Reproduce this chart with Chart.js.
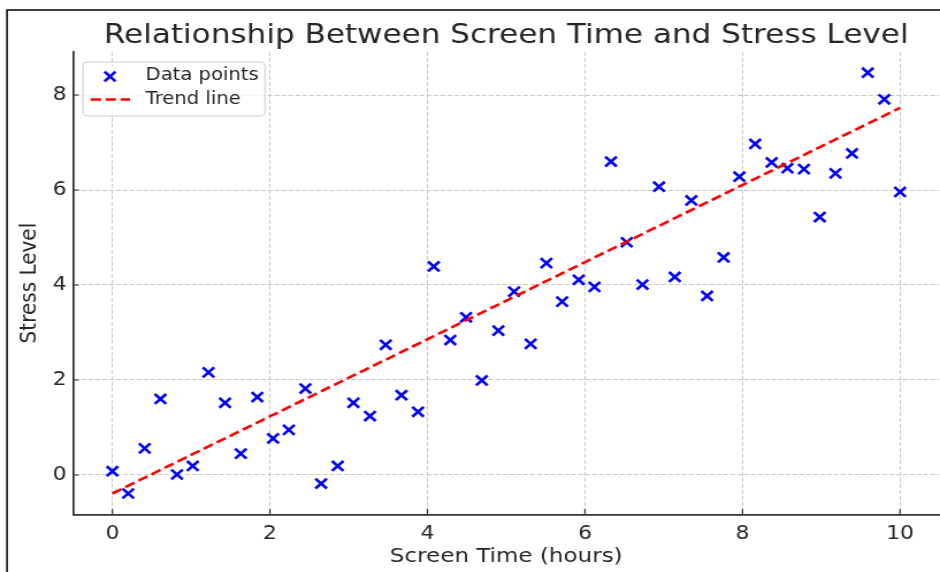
<!DOCTYPE html>
<html>
<head>
<meta charset="utf-8">
<script src="https://cdn.jsdelivr.net/npm/chart.js@4/dist/chart.umd.min.js"></script>
<style>
  html, body { margin: 0; padding: 0; background: #fff; overflow: hidden; }
  /* the figure is drawn 817px wide and widened to fill the 940px page */
  #wrap { position: relative; width: 817px; height: 572px; transform: scaleX(1.15055); transform-origin: 0 0; }
  canvas { display: block; }
</style>
</head>
<body>
<div id="wrap"><canvas id="chart" width="817" height="572"></canvas></div>
<script>
// Daily screen time (hours) for each participant
const hours = [0.00, 0.20, 0.41, 0.61, 0.82, 1.02, 1.22, 1.43, 1.63, 1.84,
               2.04, 2.24, 2.45, 2.65, 2.86, 3.06, 3.27, 3.47, 3.67, 3.88,
               4.08, 4.29, 4.49, 4.69, 4.90, 5.10, 5.31, 5.51, 5.71, 5.92,
               6.12, 6.33, 6.53, 6.73, 6.94, 7.14, 7.35, 7.55, 7.76, 7.96,
               8.16, 8.37, 8.57, 8.78, 8.98, 9.18, 9.39, 9.59, 9.80, 10.00];

// Reported stress level for each participant
const stress = [0.08, -0.39, 0.56, 1.60, 0.01, 0.19, 2.16, 1.52, 0.45, 1.64,
                0.77, 0.95, 1.82, -0.18, 0.19, 1.52, 1.24, 2.74, 1.68, 1.33,
                4.39, 2.84, 3.32, 1.99, 3.04, 3.86, 2.76, 4.46, 3.65, 4.11,
                3.96, 6.60, 4.90, 4.01, 6.07, 4.17, 5.78, 3.77, 4.58, 6.28,
                6.97, 6.58, 6.46, 6.44, 5.43, 6.35, 6.77, 8.47, 7.91, 5.96];

// Fitted linear trend, evaluated at both ends of the range
const trendHours = [0, 10];
const trendStress = [-0.39, 7.73];

// Axis tick values
const xTicks = [0, 2, 4, 6, 8, 10];
const yTicks = [0, 2, 4, 6, 8];

const titleText = 'Relationship Between Screen Time and Stress Level';
const xTitle = 'Screen Time (hours)';
const yTitle = 'Stress Level';
const legendLabels = ['Data points', 'Trend line'];

const FONT = '"DejaVu Sans", sans-serif';
const TEXT = '#262626';
const SPINE = '#333333';
const GRID = '#c8c8c8';

const decor = {
  id: 'decor',
  beforeDraw(chart) {
    const ctx = chart.ctx;
    ctx.save();
    // outer frame (top and left edges)
    ctx.strokeStyle = '#000';
    ctx.lineWidth = 1.5;
    ctx.beginPath();
    ctx.moveTo(6.1, 572);
    ctx.lineTo(6.1, 10);
    ctx.lineTo(chart.width, 10);
    ctx.stroke();
    // title
    ctx.fillStyle = TEXT;
    ctx.font = '27px ' + FONT;
    ctx.textAlign = 'center';
    ctx.textBaseline = 'alphabetic';
    const ca = chart.chartArea;
    ctx.fillText(titleText, (ca.left + ca.right) / 2, 43);
    ctx.restore();
  },
  afterDraw(chart) {
    const ctx = chart.ctx;
    const ds0 = chart.data.datasets[0];
    const ds1 = chart.data.datasets[1];
    const xs = chart.scales.x, ys = chart.scales.y;
    const ca = chart.chartArea;
    ctx.save();
    // inward tick marks on both axes
    ctx.strokeStyle = SPINE;
    ctx.lineWidth = 1.2;
    ctx.beginPath();
    xTicks.forEach(v => {
      const px = xs.getPixelForValue(v);
      ctx.moveTo(px, ca.bottom); ctx.lineTo(px, ca.bottom - 5.5);
    });
    yTicks.forEach(v => {
      const py = ys.getPixelForValue(v);
      ctx.moveTo(ca.left, py); ctx.lineTo(ca.left + 5, py);
    });
    ctx.stroke();

    // legend box
    ctx.beginPath();
    ctx.roundRect(72.1, 62, 158.2, 54, 4);
    ctx.fillStyle = 'rgba(255,255,255,0.8)';
    ctx.fill();
    ctx.strokeStyle = '#cccccc';
    ctx.lineWidth = 1;
    ctx.stroke();
    // scatter marker
    const mx = 95.6, my = 76.5, r = 4.8;
    ctx.strokeStyle = ds0.borderColor;
    ctx.lineWidth = ds0.borderWidth;
    ctx.beginPath();
    ctx.moveTo(mx - r, my - r); ctx.lineTo(mx + r, my + r);
    ctx.moveTo(mx - r, my + r); ctx.lineTo(mx + r, my - r);
    ctx.stroke();
    // trend line sample
    ctx.strokeStyle = ds1.borderColor;
    ctx.lineWidth = ds1.borderWidth;
    ctx.setLineDash(ds1.borderDash);
    ctx.beginPath();
    ctx.moveTo(78.8, 99.5); ctx.lineTo(113, 99.5);
    ctx.stroke();
    ctx.setLineDash([]);
    // legend labels
    ctx.fillStyle = TEXT;
    ctx.font = '17px ' + FONT;
    ctx.textAlign = 'left';
    ctx.textBaseline = 'middle';
    ctx.fillText(legendLabels[0], 126.6, 75.5);
    ctx.fillText(legendLabels[1], 126.6, 100);
    ctx.restore();
  }
};

new Chart(document.getElementById('chart'), {
  type: 'scatter',
  data: {
    datasets: [
      {
        label: legendLabels[0],
        data: hours.map((h, i) => ({ x: h, y: stress[i] })),
        pointStyle: 'crossRot',
        pointRadius: 7,
        pointHoverRadius: 7,
        borderColor: '#0000ff',
        backgroundColor: '#0000ff',
        borderWidth: 2.6,
        showLine: false,
        order: 2
      },
      {
        label: legendLabels[1],
        type: 'line',
        data: trendHours.map((h, i) => ({ x: h, y: trendStress[i] })),
        borderColor: '#ff0000',
        borderWidth: 2.6,
        borderDash: [9, 4],
        pointRadius: 0,
        fill: false,
        order: 1
      }
    ]
  },
  options: {
    responsive: false,
    animation: false,
    events: [],
    layout: { autoPadding: false, padding: { left: 0, right: 0.5, top: 51.8, bottom: 0 } },
    plugins: {
      legend: { display: false },
      title: { display: false },
      tooltip: { enabled: false }
    },
    scales: {
      x: {
        type: 'linear',
        min: -0.5,
        max: 10.5,
        afterBuildTicks: s => { s.ticks = xTicks.map(v => ({ value: v })); },
        afterFit: s => { s.height = 57.6; s.paddingLeft = 0; s.paddingRight = 0; },
        border: { display: true, color: SPINE, width: 1.8, dash: [4, 2] },
        grid: { color: GRID, lineWidth: 1, drawTicks: false },
        ticks: { color: TEXT, font: { family: FONT, size: 19 }, padding: 8 },
        title: {
          display: true, text: xTitle, color: TEXT,
          font: { family: FONT, size: 20 }, padding: { top: 0, bottom: 3 }
        }
      },
      y: {
        type: 'linear',
        min: -0.83,
        max: 8.91,
        afterBuildTicks: s => { s.ticks = yTicks.map(v => ({ value: v })); },
        afterFit: s => { s.width = 63.45; s.paddingTop = 0; s.paddingBottom = 0; },
        border: { display: true, color: SPINE, width: 1.8, dash: [4, 2] },
        grid: { color: GRID, lineWidth: 1, drawTicks: false },
        ticks: { color: TEXT, font: { family: FONT, size: 19 }, padding: 5.5 },
        title: {
          display: true, text: yTitle, color: TEXT,
          font: { family: FONT, size: 20 }, padding: { top: 14, bottom: 0 }
        }
      }
    }
  },
  plugins: [decor]
});
</script>
</body>
</html>
